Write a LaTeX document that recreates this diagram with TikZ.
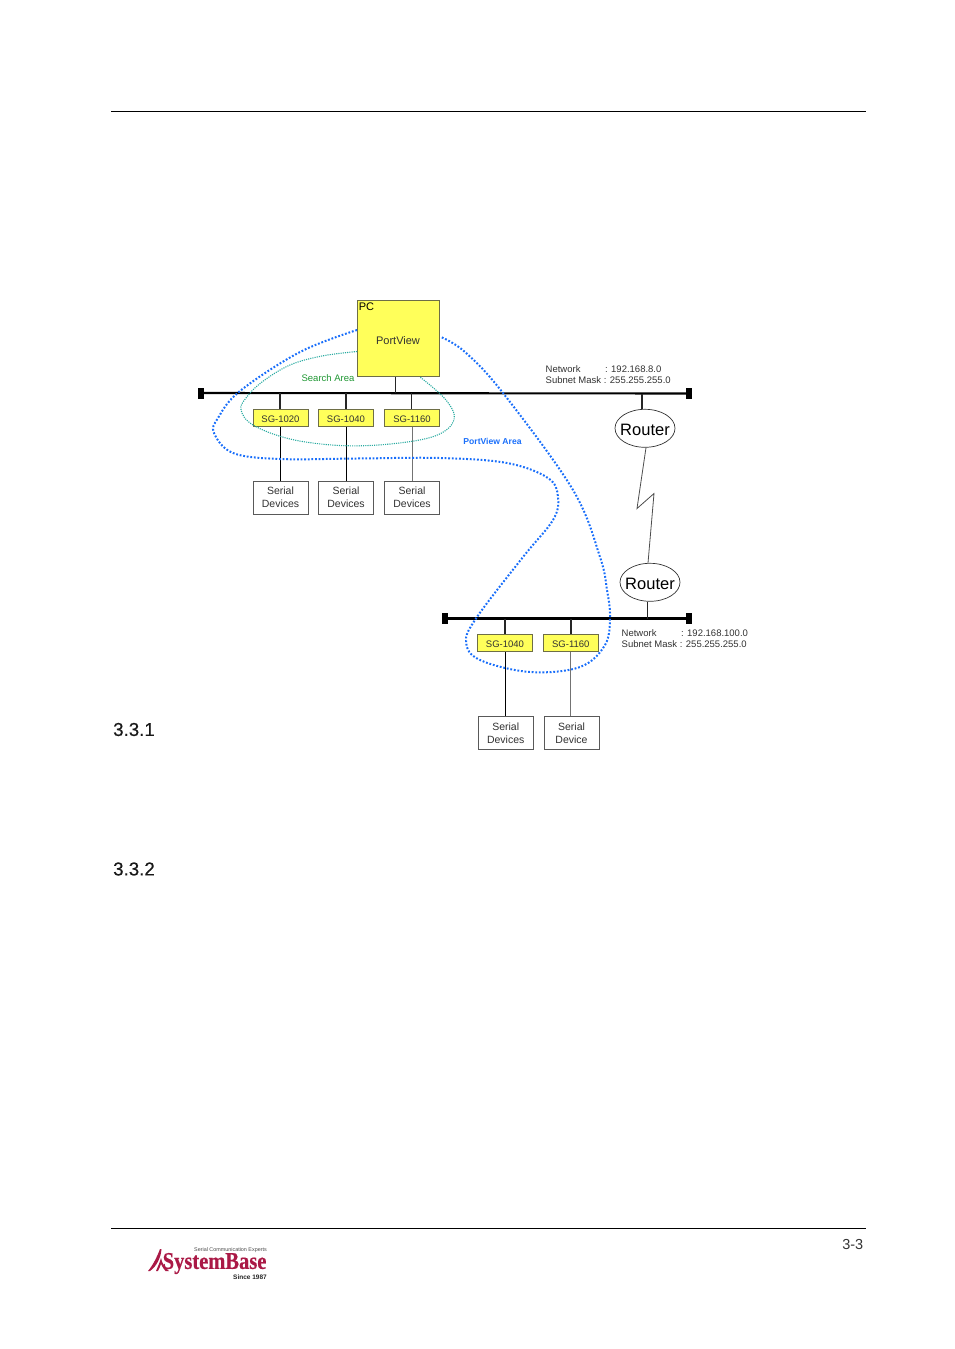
\documentclass[tikz,border=0pt]{standalone}
\usepackage{fontspec}
\setmainfont{Liberation Sans}
\newfontfamily\logofont[FakeBold=0.6]{Liberation Serif Bold}
\newfontfamily\headfont[FakeBold=0.5]{Liberation Sans}
\usetikzlibrary{shapes.geometric}
\definecolor{boxyellow}{RGB}{255,255,90}
\definecolor{boxedge}{RGB}{110,110,70}
\definecolor{areablue}{RGB}{25,110,250}
\definecolor{areateal}{RGB}{40,170,160}
\definecolor{searchgreen}{RGB}{30,150,50}
\definecolor{logored}{RGB}{170,25,70}
\definecolor{txtgray}{RGB}{50,50,50}
\tikzset{
  x=1pt,y=-1pt,
  devbox/.style={draw=boxedge,line width=.9pt,fill=boxyellow,minimum width=55pt,minimum height=17.5pt,inner sep=0pt,font=\fontsize{9.5}{10}\selectfont,text=txtgray,text height=9.1pt,text depth=0pt},
  serbox/.style={draw=black!65,line width=.8pt,fill=white,minimum width=55pt,minimum height=33pt,inner sep=0pt,align=center,font=\fontsize{10.5}{13}\selectfont,text=txtgray,execute at begin node={\rule{0pt}{12pt}}},
  router/.style={draw=black!80,line width=.7pt,ellipse,minimum width=60pt,minimum height=38pt,inner xsep=-4.6pt,inner ysep=0pt,font=\fontsize{16.5}{18}\selectfont,text height=14.4pt,text depth=0pt},
  busline/.style={line width=2.1pt,black},
  stub/.style={line width=1.7pt,black!85},
  thin drop/.style={line width=1pt,black},
  gray drop/.style={line width=.8pt,black!55},
  endcap/.style={fill=black,draw=none,minimum width=6pt,minimum height=11pt,inner sep=0pt},
  netinfo/.style={anchor=west,inner sep=0pt,font=\fontsize{9.5}{10.9}\selectfont,align=left,text=txtgray},
  heading/.style={anchor=west,inner sep=0pt,font=\headfont\fontsize{18.7}{20}\selectfont,text=black!90},
  rule/.style={line width=.8pt,black},
  blue area/.style={areablue,line width=2pt,dash pattern=on 1.8pt off 1.8pt},
  teal area/.style={areateal,line width=1.1pt,dash pattern=on 1.1pt off 1.1pt},
}
\begin{document}
\begin{tikzpicture}
\useasboundingbox (0,0) rectangle (954,1349);
% page rules
\coordinate (ruleAl) at (111,111); \coordinate (ruleAr) at (866,111);
\coordinate (ruleBl) at (111,1228); \coordinate (ruleBr) at (866,1228);
\draw[rule] (ruleAl) -- (ruleAr);
\draw[rule] (ruleBl) -- (ruleBr);
% buses
\node[endcap] (b1l) at (201,393) {};
\node[endcap] (b1r) at (689,393.5) {};
\node[endcap] (b2l) at (445,618.5) {};
\node[endcap] (b2r) at (689,618.5) {};
\draw[busline] (b1l) -- (b1r);
\draw[busline] (b2l) -- (b2r);
% nodes
\node[devbox,minimum width=82.5pt,minimum height=76pt] (pc) at (398.2,338.5) {};
\node[inner sep=0pt,font=\fontsize{11}{12}\selectfont] (pclabel) at (366.5,307) {PC};
\node[inner sep=0pt,font=\fontsize{11}{12}\selectfont,text=txtgray] (pvlabel) at (398,340.5) {PortView};
\node[devbox] (sgA) at (280.5,417.7) {SG-1020};
\node[devbox] (sgB) at (346,417.7) {SG-1040};
\node[devbox] (sgC) at (412,417.7) {SG-1160};
\node[serbox] (serA) at (280.5,497.7) {Serial\\Devices};
\node[serbox] (serB) at (346,497.7) {Serial\\Devices};
\node[serbox] (serC) at (412,497.7) {Serial\\Devices};
\node[devbox] (sgD) at (505,643) {SG-1040};
\node[devbox] (sgE) at (570.8,643) {SG-1160};
\node[serbox] (serD) at (505.7,733) {Serial\\Devices};
\node[serbox] (serE) at (571.5,733) {Serial\\Device};
\node[router] (rA) at (645,428.3) {Router};
\node[router] (rB) at (650,582.3) {Router};
% junctions on the buses
\coordinate (jpc) at (395.5,393); \coordinate (ja) at (280.2,393); \coordinate (jb) at (346,393); \coordinate (jc) at (411.5,393);
\coordinate (jr1) at (642,393.5); \coordinate (jr2) at (647.5,618.5); \coordinate (jd) at (505,618.5); \coordinate (je) at (570.8,618.5);
\draw[stub] (pc.south -| jpc) -- (jpc);
\draw[stub] (ja) -- (sgA.north -| ja);
\draw[stub] (jb) -- (sgB.north -| jb);
\draw[stub] (jc) -- (sgC.north -| jc);
\draw[stub] (jr1) -- (rA.north -| jr1);
\draw[stub] (jr2) -- (rB.south -| jr2);
\draw[stub] (jd) -- (sgD.north -| jd);
\draw[stub] (je) -- (sgE.north -| je);
\draw[thin drop] (sgA) -- (serA);
\draw[thin drop] (sgB) -- (serB);
\draw[gray drop] (sgC) -- (serC);
\draw[thin drop] (sgD.south) -- (serD.north -| sgD.south);
\draw[gray drop] (sgE.south) -- (serE.north -| sgE.south);
% wan link
\coordinate (zigA) at (637,508.5); \coordinate (zigB) at (654,493.5);
\draw[line width=.8pt,black!70] (rA.south) ++(1,0) -- (zigA) -- (zigB) -- ([xshift=-2pt]rB.north);
% areas
\draw[teal area] plot[smooth,tension=.6] coordinates {(357,351.5) (322,356) (290,365) (262,382) (246,398) (241,410) (253,425) (290,439) (340,445.5) (390,444) (435,436) (454,420) (446,400) (420,377)};
\draw[blue area] plot[smooth,tension=.6] coordinates {(357,330) (300,352) (240,391) (218,418) (214,433) (233,453) (280,459) (357,458.5) (440,458) (507,463) (548,478) (558,497) (553,520) (523,557) (477,617) (466,642) (480,660) (530,672) (580,667) (605,645) (610,617) (607,590) (600,557) (573,490) (503,393) (465,352) (441,337)};
% labels
\node[inner sep=0pt,font=\fontsize{9.5}{10}\selectfont,text=searchgreen] (search) at (328,378) {Search Area};
\node[inner sep=0pt,font=\bfseries\fontsize{8.6}{10}\selectfont,text=areablue] (pva) at (492.5,441.5) {PortView Area};
\node[netinfo] (net1) at (545.5,374.8) {Network\hspace{24.5pt}: 192.168.8.0\\Subnet Mask : 255.255.255.0};
\node[netinfo] (net2) at (621.5,639) {Network\hspace{24.5pt}: 192.168.100.0\\Subnet Mask : 255.255.255.0};
\node[heading] (h1) at (113,729.5) {3.3.1};
\node[heading] (h2) at (113,869) {3.3.2};
\node[anchor=east,inner sep=0pt,font=\fontsize{14.5}{16}\selectfont,text=black!80] (pageno) at (863.5,1244.5) {3-3};
% logo
\fill[logored] (148,1271) .. controls (153,1265) and (157,1257) .. (160,1249) -- (161.5,1249) .. controls (161,1257) and (157,1266) .. (150,1271) -- cycle;
\fill[logored] (156,1271) .. controls (158,1266) and (160,1262) .. (161,1258) .. controls (162,1263) and (165,1268) .. (169,1271) -- (165.5,1271) .. controls (163,1268) and (162,1266) .. (161,1264) .. controls (160,1267) and (159,1269) .. (158,1271) -- cycle;
\node[anchor=west,inner sep=0pt,text=logored] (logo) at (162.5,1263.5) {\scalebox{.855}[1]{\logofont\fontsize{24}{24}\selectfont SystemBase}};
\node[anchor=east,inner sep=0pt,font=\fontsize{5.4}{5}\selectfont,text=black!70] (logotop) at (267,1250) {Serial Communication Experts};
\node[anchor=east,inner sep=0pt,font=\bfseries\fontsize{6.5}{7}\selectfont,text=black!85] (logosince) at (267,1277) {Since 1987};
\end{tikzpicture}
\end{document}
